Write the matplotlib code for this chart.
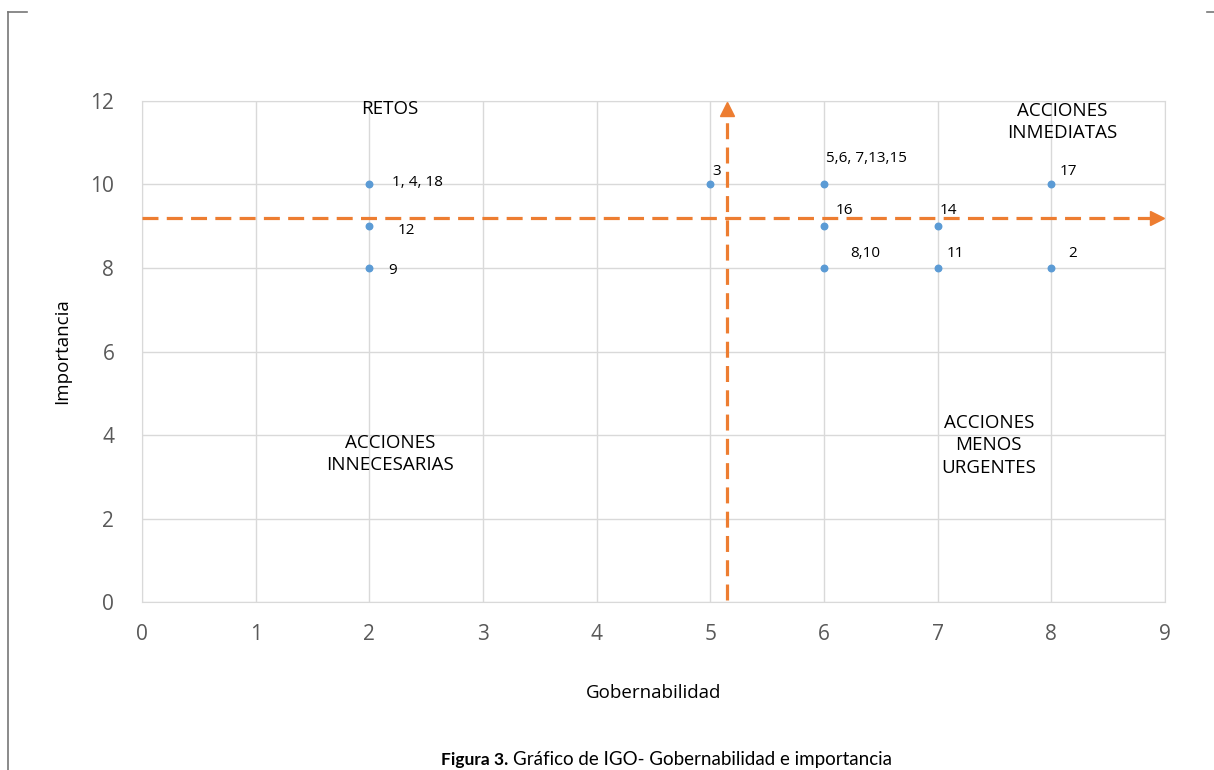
import matplotlib.pyplot as plt
from matplotlib.lines import Line2D

plt.rcParams['font.family'] = ['Open Sans', 'DejaVu Sans']

# datos
gobernabilidad = [2, 2, 2, 5, 6, 6, 6, 7, 7, 8, 8]
importancia = [10, 9, 8, 10, 10, 9, 8, 9, 8, 10, 8]
etiquetas = ["1, 4, 18", "12", "9", "3", "5,6, 7,13,15", "16", "8,10", "14", "11", "17", "2"]
etiqueta_x = [2.2, 2.25, 2.17, 5.02, 6.02, 6.1, 6.23, 7.02, 7.08, 8.07, 8.15]
etiqueta_y = [10.05, 8.9, 7.95, 10.3, 10.62, 9.37, 8.35, 9.37, 8.35, 10.3, 8.35]

cuadrantes = ["RETOS", "ACCIONES\nINMEDIATAS", "ACCIONES\nINNECESARIAS", "ACCIONES\nMENOS\nURGENTES"]
cuadrante_x = [2.18, 8.1, 2.18, 7.45]
cuadrante_y = [11.8, 11.5, 3.55, 3.75]

corte_gob = 5.15
corte_imp = 9.2

fig = plt.figure(figsize=(12.14, 7.7), dpi=100)
ax = fig.add_axes([0.117, 0.218, 0.8426, 0.651])

ax.scatter(gobernabilidad, importancia, s=22, color="#5B9BD5", zorder=4)
for t, x, y in zip(etiquetas, etiqueta_x, etiqueta_y):
    ax.text(x, y, t, fontsize=11, color="black", ha="left", va="center", zorder=5)

for t, x, y in zip(cuadrantes, cuadrante_x, cuadrante_y):
    ax.text(x, y, t, fontsize=13.5, ha="center", va="center", linespacing=1.3)

# lineas de corte con flecha
naranja = "#ED7D31"
ax.plot([0, 8.9], [corte_imp, corte_imp], color=naranja, lw=2.3, ls=(0, (5, 2.6)), zorder=3)
ax.plot([8.93], [corte_imp], marker=">", ms=10, color=naranja, zorder=3, clip_on=False)
ax.plot([corte_gob, corte_gob], [0.05, 11.7], color=naranja, lw=2.3, ls=(0, (5, 2.6)), zorder=3)
ax.plot([corte_gob], [11.8], marker="^", ms=10, color=naranja, zorder=3, clip_on=False)

ax.set_xlim(0, 9)
ax.set_ylim(0, 12)
ax.set_xticks(range(0, 10))
ax.set_yticks(range(0, 13, 2))
ax.grid(True, color="#D9D9D9", lw=1)
ax.set_axisbelow(True)
for s in ax.spines.values():
    s.set_color("#D9D9D9")
ax.tick_params(length=0, labelsize=15, labelcolor="#595959")
ax.tick_params(axis="x", pad=16)
ax.tick_params(axis="y", pad=20)

ax.set_xlabel("Gobernabilidad", fontsize=13.5, labelpad=28)
ax.set_ylabel("Importancia", fontsize=13.5, labelpad=14)

# marco de la pagina
fig.add_artist(Line2D([8 / 1214, 8 / 1214], [0, 1 - 12 / 770], color="#777777", lw=1.2))
fig.add_artist(Line2D([8 / 1214, 27 / 1214], [1 - 12 / 770, 1 - 12 / 770], color="#777777", lw=1.2))
fig.add_artist(Line2D([1207 / 1214, 1214 / 1214], [1 - 12 / 770, 1 - 12 / 770], color="#777777", lw=1.2))

# pie de figura
pie1 = fig.text(441 / 1214, 1 - 760 / 770, "Figura 3.", fontsize=12.5, fontweight="bold", family="Lato", va="center")
fig.canvas.draw()
ancho = pie1.get_window_extent().width
fig.text((441 + ancho + 5) / 1214, 1 - 760 / 770, "Gráfico de IGO- Gobernabilidad e importancia",
         fontsize=13.5, family="Lato", va="center")

fig.savefig("out.png", dpi=100)
